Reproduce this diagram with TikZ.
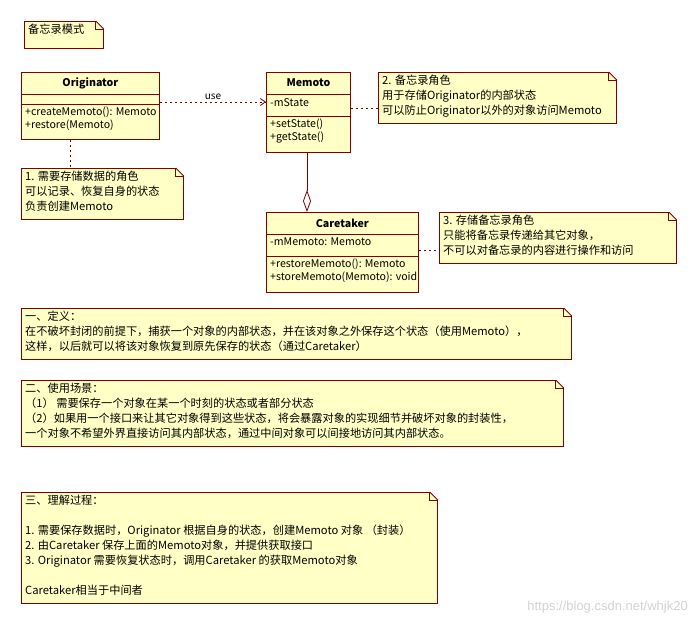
\documentclass[tikz,border=0pt]{standalone}
\usepackage{fontspec}
\setmainfont{Noto Sans CJK SC}
\newfontfamily\wmfont{Liberation Sans}
\usetikzlibrary{positioning}
\usetikzlibrary{arrows.meta}
\definecolor{notefill}{HTML}{FFFFC6}
\definecolor{noteline}{HTML}{800000}

\begin{document}
\begin{tikzpicture}[x=1pt,y=-1pt,font=\fontsize{11.2}{15}\selectfont]
\tikzset{
  frame/.style={rectangle,draw=noteline,fill=notefill,line width=0.8pt,anchor=north west,inner sep=0pt},
  txt/.style={anchor=north west,align=left,inner sep=0pt,text=black},
  ops/.style={txt,font=\fontsize{10.6}{13}\selectfont},
  head/.style={font=\fontsize{10.6}{13}\selectfont\bfseries,inner sep=0pt},
  link/.style={draw=noteline,line width=0.8pt,dashed,dash pattern=on 2.5pt off 2.5pt},
  sep/.style={draw=noteline,line width=0.8pt},
}
\useasboundingbox (0,0) rectangle (693,624);
% notes
\node[frame,minimum width=79pt,minimum height=27pt] (title) at (24,21) {};
\node[frame,minimum width=162pt,minimum height=51pt] (note1) at (21,168) {};
\node[frame,minimum width=238pt,minimum height=51pt] (note2) at (378,72) {};
\node[frame,minimum width=237pt,minimum height=51pt] (note3) at (439,212) {};
\node[frame,minimum width=550pt,minimum height=51pt] (define) at (21,308) {};
\node[frame,minimum width=542pt,minimum height=66pt] (scene) at (21,380) {};
\node[frame,minimum width=416pt,minimum height=111pt] (process) at (21,492) {};
\foreach \n in {title,note1,note2,note3,define,scene,process} {
  \fill[white] ([xshift=-8pt]\n.north east) -- ([xshift=0.6pt,yshift=0.6pt]\n.north east) -- ([yshift=-8pt]\n.north east) -- cycle;
  \draw[sep] ([xshift=-8pt]\n.north east) -- ([yshift=-8pt]\n.north east);
  \draw[sep] ([xshift=-8pt]\n.north east) -- ([xshift=-8pt,yshift=-8pt]\n.north east) -- ([yshift=-8pt]\n.north east);
}
\node[txt] (titletxt) at ([xshift=4pt,yshift=-3pt]title.north west) {备忘录模式};
\node[txt] (note1txt) at ([xshift=4pt,yshift=-3pt]note1.north west) {1. 需要存储数据的角色\\可以记录、恢复自身的状态\\负责创建Memoto};
\node[txt] (note2txt) at ([xshift=4pt,yshift=-3pt]note2.north west) {2. 备忘录角色\\用于存储Originator的内部状态\\可以防止Originator以外的对象访问Memoto};
\node[txt] (note3txt) at ([xshift=4pt,yshift=-3pt]note3.north west) {3. 存储备忘录角色\\只能将备忘录传递给其它对象，\\不可以对备忘录的内容进行操作和访问};
\node[txt] (definetxt) at ([xshift=4pt,yshift=-3pt]define.north west) {一、定义：\\在不破坏封闭的前提下，捕获一个对象的内部状态，并在该对象之外保存这个状态（使用Memoto），\\这样，以后就可以将该对象恢复到原先保存的状态（通过Caretaker）};
\node[txt] (scenetxt) at ([xshift=4pt,yshift=-3pt]scene.north west) {二、使用场景：\\（1） 需要保存一个对象在某一个时刻的状态或者部分状态\\（2）如果用一个接口来让其它对象得到这些状态，将会暴露对象的实现细节并破坏对象的封装性，\\一个对象不希望外界直接访问其内部状态，通过中间对象可以间接地访问其内部状态。};
\node[txt] (processtxt) at ([xshift=4pt,yshift=-3pt]process.north west) {三、理解过程：\\[15pt]1. 需要保存数据时，Originator 根据自身的状态，创建Memoto 对象 （封装）\\2. 由Caretaker 保存上面的Memoto对象，并提供获取接口\\3. Originator 需要恢复状态时，调用Caretaker 的获取Memoto对象\\[15pt]Caretaker相当于中间者};
% classes
\node[frame,minimum width=138pt,minimum height=67pt] (orig) at (21,72) {};
\node[frame,minimum width=84pt,minimum height=80pt] (memo) at (266,72) {};
\node[frame,minimum width=152pt,minimum height=80pt] (care) at (266,212) {};
\draw[sep] ([yshift=-22pt]orig.north west) -- ([yshift=-22pt]orig.north east);
\draw[sep] ([yshift=-32pt]orig.north west) -- ([yshift=-32pt]orig.north east);
\draw[sep] ([yshift=-22pt]memo.north west) -- ([yshift=-22pt]memo.north east);
\draw[sep] ([yshift=-44pt]memo.north west) -- ([yshift=-44pt]memo.north east);
\draw[sep] ([yshift=-22pt]care.north west) -- ([yshift=-22pt]care.north east);
\draw[sep] ([yshift=-44pt]care.north west) -- ([yshift=-44pt]care.north east);
\node[head] (orighead) at ([yshift=-11pt]orig.north) {Originator};
\node[head] (memohead) at ([yshift=-11pt]memo.north) {Memoto};
\node[head] (carehead) at ([yshift=-11pt]care.north) {Caretaker};
\node[ops] (origops) at ([xshift=4pt,yshift=-35pt]orig.north west) {+createMemoto(): Memoto\\+restore(Memoto)};
\node[ops] (memoattr) at ([xshift=4pt,yshift=-26pt]memo.north west) {-mState};
\node[ops] (memoops) at ([xshift=4pt,yshift=-47pt]memo.north west) {+setState()\\+getState()};
\node[ops] (careattr) at ([xshift=4pt,yshift=-26pt]care.north west) {-mMemoto: Memoto};
\node[ops] (careops) at ([xshift=4pt,yshift=-47pt]care.north west) {+restoreMemoto(): Memoto\\+storeMemoto(Memoto): void};
% connectors
\coordinate (usestart) at ([yshift=-30pt]orig.north east);
\coordinate (useend) at ([yshift=-30pt]memo.north west);
\draw[link,-{Straight Barb[length=5pt,width=7pt]}] (usestart) -- node[above=-1pt,font=\fontsize{10}{10}\selectfont] {use} (useend);
\draw[link] ([yshift=-36pt]memo.north east) -- ([yshift=-36pt]note2.north west);
\draw[link] ([xshift=-20pt]orig.south) -- ([xshift=-20pt]orig.south |- note1.north);
\draw[link] ([yshift=-38pt]care.north east) -- ([yshift=-38pt]note3.north west);
\draw[sep,{Diamond[open,length=22pt,width=8pt,fill=white]}-] ([xshift=41pt]care.north west) -- ([xshift=41pt]care.north west |- memo.south);
% watermark
\node[anchor=south east,inner sep=0pt,text=gray!35,font=\wmfont\fontsize{13}{13}\selectfont] (mark) at (688,613) {https://blog.csdn.net/whjk20};
\end{tikzpicture}
\end{document}
